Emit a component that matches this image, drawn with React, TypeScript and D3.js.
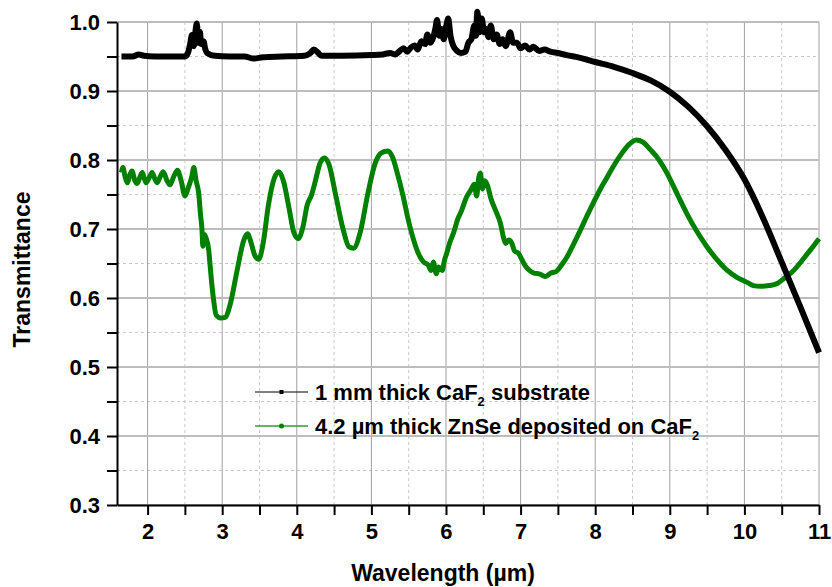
import React, { useEffect, useRef } from "react";
import * as d3 from "d3";

// wavelength (µm), transmittance
const substrate: [number, number][] = [
  [1.65, 0.95], [1.8, 0.95], [1.88, 0.953], [1.95, 0.951], [2.1, 0.95], [2.3, 0.95], [2.5, 0.95],
  [2.54, 0.955], [2.57, 0.968], [2.595, 0.981], [2.62, 0.965], [2.64, 0.985], [2.66, 0.998],
  [2.68, 0.97], [2.7, 0.986], [2.72, 0.968], [2.75, 0.972], [2.77, 0.962], [2.8, 0.955],
  [2.9, 0.951], [3.1, 0.95], [3.3, 0.95], [3.42, 0.947], [3.55, 0.949], [3.8, 0.95], [4.1, 0.951],
  [4.18, 0.955], [4.23, 0.96], [4.28, 0.956], [4.33, 0.951], [4.6, 0.951], [5.0, 0.952],
  [5.15, 0.953], [5.25, 0.955], [5.32, 0.953], [5.38, 0.958], [5.43, 0.962], [5.48, 0.957],
  [5.53, 0.963], [5.58, 0.966], [5.62, 0.96], [5.67, 0.972], [5.72, 0.968], [5.75, 0.982],
  [5.79, 0.97], [5.83, 0.978], [5.86, 0.992], [5.88, 1.003], [5.91, 0.98], [5.94, 0.99],
  [5.97, 0.975], [6.0, 0.992], [6.03, 1.005], [6.06, 0.98], [6.1, 0.965], [6.15, 0.958],
  [6.2, 0.955], [6.26, 0.957], [6.3, 0.97], [6.34, 0.975], [6.38, 0.995], [6.4, 0.98],
  [6.42, 1.015], [6.45, 0.985], [6.48, 1.005], [6.51, 0.985], [6.54, 0.99], [6.57, 0.978],
  [6.6, 0.995], [6.64, 0.975], [6.68, 0.982], [6.72, 0.968], [6.76, 0.975], [6.8, 0.965],
  [6.86, 0.985], [6.9, 0.97], [6.95, 0.97], [7.0, 0.962], [7.06, 0.966], [7.12, 0.96],
  [7.17, 0.964], [7.25, 0.958], [7.32, 0.96], [7.4, 0.957], [7.5, 0.955], [7.62, 0.952],
  [7.8, 0.948], [8.0, 0.942], [8.25, 0.935], [8.5, 0.926], [8.75, 0.915], [9.0, 0.899],
  [9.25, 0.877], [9.5, 0.849], [9.75, 0.814], [10.0, 0.772], [10.25, 0.716], [10.5, 0.652],
  [10.75, 0.587], [11.0, 0.521],
];

const film: [number, number][] = [
  [1.65, 0.782], [1.67, 0.789], [1.7, 0.775], [1.73, 0.767], [1.76, 0.778], [1.79, 0.784],
  [1.83, 0.77], [1.86, 0.766], [1.9, 0.776], [1.93, 0.782], [1.96, 0.772], [1.98, 0.767],
  [2.02, 0.774], [2.06, 0.782], [2.1, 0.772], [2.13, 0.767], [2.17, 0.776], [2.21, 0.783],
  [2.26, 0.77], [2.3, 0.764], [2.35, 0.776], [2.4, 0.785], [2.45, 0.77], [2.5, 0.748],
  [2.54, 0.758], [2.59, 0.775], [2.62, 0.789], [2.65, 0.77], [2.685, 0.752], [2.71, 0.72],
  [2.73, 0.698], [2.74, 0.675], [2.76, 0.692], [2.78, 0.688], [2.82, 0.669], [2.84, 0.645],
  [2.86, 0.621], [2.885, 0.597], [2.92, 0.575], [2.98, 0.571], [3.04, 0.572], [3.11, 0.592],
  [3.2, 0.64], [3.29, 0.684], [3.34, 0.693], [3.39, 0.679], [3.44, 0.661], [3.49, 0.656],
  [3.55, 0.68], [3.62, 0.735], [3.7, 0.774], [3.76, 0.783], [3.82, 0.77], [3.9, 0.728],
  [3.96, 0.695], [4.02, 0.686], [4.08, 0.702], [4.14, 0.735], [4.2, 0.75], [4.25, 0.77],
  [4.31, 0.795], [4.37, 0.803], [4.43, 0.794], [4.52, 0.75], [4.62, 0.7], [4.7, 0.674],
  [4.76, 0.672], [4.85, 0.695], [4.95, 0.75], [5.05, 0.795], [5.13, 0.81], [5.22, 0.813],
  [5.28, 0.805], [5.35, 0.78], [5.42, 0.75], [5.48, 0.72], [5.55, 0.69], [5.62, 0.667],
  [5.7, 0.652], [5.76, 0.648], [5.8, 0.64], [5.83, 0.652], [5.87, 0.635], [5.9, 0.645],
  [5.95, 0.64], [5.98, 0.655], [6.01, 0.665], [6.05, 0.68], [6.1, 0.694], [6.16, 0.715],
  [6.21, 0.727], [6.27, 0.745], [6.33, 0.756], [6.38, 0.765], [6.41, 0.748], [6.44, 0.775],
  [6.46, 0.781], [6.49, 0.758], [6.52, 0.77], [6.56, 0.762], [6.6, 0.745], [6.66, 0.728],
  [6.73, 0.708], [6.77, 0.688], [6.8, 0.679], [6.84, 0.684], [6.88, 0.68], [6.92, 0.668],
  [6.97, 0.665], [7.02, 0.655], [7.06, 0.647], [7.12, 0.64], [7.18, 0.636], [7.25, 0.635],
  [7.33, 0.631], [7.4, 0.636], [7.47, 0.638], [7.55, 0.648], [7.62, 0.659], [7.71, 0.678],
  [7.8, 0.698], [7.89, 0.719], [7.98, 0.739], [8.07, 0.758], [8.16, 0.775], [8.25, 0.792],
  [8.34, 0.807], [8.44, 0.821], [8.55, 0.829], [8.64, 0.826], [8.74, 0.815], [8.83, 0.804],
  [8.92, 0.789], [9.01, 0.771], [9.12, 0.746], [9.23, 0.722], [9.36, 0.697], [9.5, 0.674],
  [9.63, 0.656], [9.77, 0.64], [9.9, 0.63], [10.03, 0.623], [10.12, 0.618], [10.21, 0.617],
  [10.33, 0.618], [10.44, 0.621], [10.55, 0.63], [10.66, 0.64], [10.77, 0.654], [10.88, 0.669],
  [11.0, 0.686],
];

const xMajor = [2, 3, 4, 5, 6, 7, 8, 9, 10, 11];
const xMinor = [2.5, 3.5, 4.5, 5.5, 6.5, 7.5, 8.5, 9.5, 10.5];
const yMajor = [0.3, 0.4, 0.5, 0.6, 0.7, 0.8, 0.9, 1.0];
const yMinor = [0.35, 0.45, 0.55, 0.65, 0.75, 0.85, 0.95];

const W = 832;
const H = 587;
const margin = { left: 117, right: 13, top: 22, bottom: 82 };
const font = "'Liberation Sans', Arial, sans-serif";

const App = () => {
  const xAxisRef = useRef<SVGGElement>(null);
  const yAxisRef = useRef<SVGGElement>(null);

  const x = d3.scaleLinear().domain([1.59, 11]).range([margin.left, W - margin.right]);
  const y = d3.scaleLinear().domain([0.3, 1.0]).range([H - margin.bottom, margin.top]);

  const line = d3
    .line<[number, number]>()
    .x((d) => x(d[0]))
    .y((d) => y(d[1]))
    .curve(d3.curveMonotoneX);

  useEffect(() => {
    const style = (sel: any) => {
      sel.selectAll("path.domain").attr("stroke", "#000").attr("stroke-width", 2);
      sel.selectAll(".tick line").attr("stroke", "#000").attr("stroke-width", 2);
      sel
        .selectAll("text")
        .attr("fill", "#000")
        .style("font-family", font)
        .style("font-weight", "bold")
        .style("font-size", "22px");
    };
    const xa = d3.select(xAxisRef.current!);
    xa.call(
      d3
        .axisBottom(x)
        .tickValues([...xMajor, ...xMinor])
        .tickSize(10)
        .tickSizeOuter(0)
        .tickPadding(8)
        .tickFormat((d) => (xMajor.includes(+d) ? d3.format("d")(+d) : ""))
    );
    style(xa);
    const ya = d3.select(yAxisRef.current!);
    ya.call(
      d3
        .axisLeft(y)
        .tickValues([...yMajor, ...yMinor])
        .tickSize(10)
        .tickSizeOuter(0)
        .tickPadding(7)
        .tickFormat((d) => (yMajor.some((v) => Math.abs(v - +d) < 1e-9) ? d3.format(".1f")(+d) : ""))
    );
    style(ya);
  }, []);

  const legendX0 = 255;
  const legendX1 = 308;
  const legendY = [392, 426];

  return (
    <svg width={W} height={H} style={{ position: "absolute", left: 0, top: 0, background: "#fff" }}>
      <g>
        {xMinor.map((v) => (
          <line key={`xm${v}`} x1={x(v)} x2={x(v)} y1={y(0.3)} y2={y(1.0)} stroke="#c8c8c8" strokeWidth={1} strokeDasharray="3,3" />
        ))}
        {yMinor.map((v) => (
          <line key={`ym${v}`} x1={x(1.59)} x2={x(11)} y1={y(v)} y2={y(v)} stroke="#c8c8c8" strokeWidth={1} strokeDasharray="3,3" />
        ))}
        {xMajor.map((v) => (
          <line key={`xM${v}`} x1={x(v)} x2={x(v)} y1={y(0.3)} y2={y(1.0)} stroke="#a0a0a0" strokeWidth={1} />
        ))}
        {yMajor.map((v) => (
          <line key={`yM${v}`} x1={x(1.59)} x2={x(11)} y1={y(v)} y2={y(v)} stroke="#bdbdbd" strokeWidth={2} />
        ))}
      </g>

      <path d={line(film) || ""} fill="none" stroke="#008000" strokeWidth={5} strokeLinejoin="round" />
      <path d={line(substrate) || ""} fill="none" stroke="#000" strokeWidth={6} strokeLinejoin="round" />

      <g ref={xAxisRef} transform={`translate(0,${H - margin.bottom})`} />
      <g ref={yAxisRef} transform={`translate(${margin.left},0)`} />

      <g fontFamily={font} fontWeight="bold" fontSize={22} fill="#000">
        <line x1={legendX0} x2={legendX1} y1={legendY[0]} y2={legendY[0]} stroke="#000" strokeWidth={1} />
        <rect x={(legendX0 + legendX1) / 2 - 2} y={legendY[0] - 2} width={4} height={4} fill="#000" />
        <text x={315} y={legendY[0] + 8}>
          1 mm thick CaF<tspan fontSize={13} dy={6}>2</tspan>
          <tspan dy={-6}> substrate</tspan>
        </text>
        <line x1={legendX0} x2={legendX1} y1={legendY[1]} y2={legendY[1]} stroke="#2ca02c" strokeWidth={1.5} />
        <circle cx={(legendX0 + legendX1) / 2} cy={legendY[1]} r={2.5} fill="#008000" />
        <text x={315} y={legendY[1] + 8}>
          4.2 µm thick ZnSe deposited on CaF<tspan fontSize={13} dy={6}>2</tspan>
        </text>
      </g>

      <text x={443} y={581} textAnchor="middle" fontFamily={font} fontWeight="bold" fontSize={23}>
        Wavelength (µm)
      </text>
      <text
        transform={`translate(30,${(y(0.3) + y(1.0)) / 2 + 6}) rotate(-90)`}
        textAnchor="middle"
        fontFamily={font}
        fontWeight="bold"
        fontSize={23}
      >
        Transmittance
      </text>
    </svg>
  );
};

export default App;
